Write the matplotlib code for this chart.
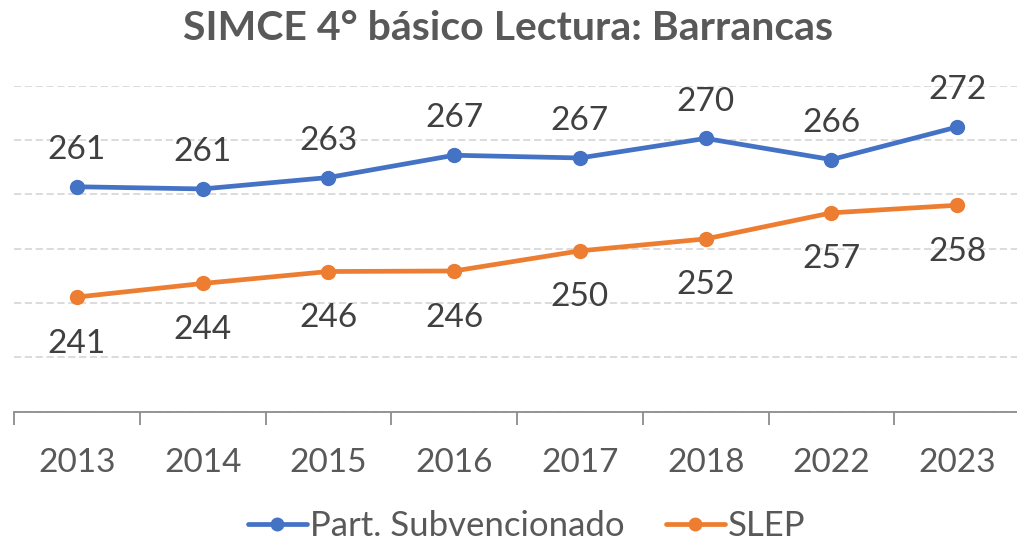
import matplotlib
matplotlib.use("Agg")
import matplotlib.pyplot as plt

years = ["2013", "2014", "2015", "2016", "2017", "2018", "2022", "2023"]
part_subv = [261.4, 261.0, 263.1, 267.2, 266.7, 270.3, 266.4, 272.4]
slep = [241.1, 243.6, 245.8, 245.9, 249.6, 251.8, 256.6, 258.0]
series_names = ["Part. Subvencionado", "SLEP"]
title = "SIMCE 4° básico Lectura: Barrancas"

BLUE = "#4472C4"
ORANGE = "#ED7D31"
TXT = "#595959"
LBL = "#404040"
FONT = "Lato"

fig = plt.figure(figsize=(10.17, 5.43), dpi=100)
ax = fig.add_axes([14/1017, 131.3/543, 1 - 14/1017 + 0.003, 326/543])

x = list(range(len(years)))
ax.plot(x, part_subv, color=BLUE, lw=3.4, marker="o", ms=10, label=series_names[0], solid_capstyle="round")
ax.plot(x, slep, color=ORANGE, lw=3.4, marker="o", ms=10, label=series_names[1], solid_capstyle="round")

for xi, v in zip(x, part_subv):
    ax.annotate(f"{v:.0f}", (xi, v), xytext=(0, 20), textcoords="offset points",
                ha="center", va="baseline", fontsize=24, color=LBL, family=FONT)
for xi, v in zip(x, slep):
    ax.annotate(f"{v:.0f}", (xi, v), xytext=(0, -40), textcoords="offset points",
                ha="center", va="baseline", fontsize=24, color=LBL, family=FONT)

ax.set_xlim(-0.5, len(years) - 0.5)
ax.set_ylim(220, 280)
ax.set_yticks(range(220, 281, 10))
ax.yaxis.grid(True, color="#D9D9D9", lw=1.3, ls=(0, (4, 2)))
ax.tick_params(axis="y", left=False, labelleft=False)
ax.set_xticks(x)
ax.set_xticklabels(years, fontsize=24, color=TXT, family=FONT)
ax.set_xticks([i - 0.5 for i in range(len(years) + 1)], minor=True)
ax.tick_params(axis="x", which="major", length=0, pad=26)
ax.tick_params(axis="x", which="minor", length=9, width=1.3, color="#8C8C8C")
for s in ["top", "right", "left"]:
    ax.spines[s].set_visible(False)
ax.spines["bottom"].set_color("#8C8C8C")
ax.spines["bottom"].set_linewidth(1.3)
ax.set_axisbelow(True)

fig.text(0.5, 1 - 28/543, title, ha="center", va="center", fontsize=29.5,
         fontweight="bold", color=TXT, family=FONT)

fig.legend(loc="center", bbox_to_anchor=(0.5 + 18/1017, 1 - 526/543), ncol=2, frameon=False,
           prop={"family": FONT, "size": 25}, labelcolor=TXT, handlelength=1.7,
           handletextpad=0.08, columnspacing=1.2, borderaxespad=0, markerscale=0.9)

fig.savefig("out.png", dpi=100)
